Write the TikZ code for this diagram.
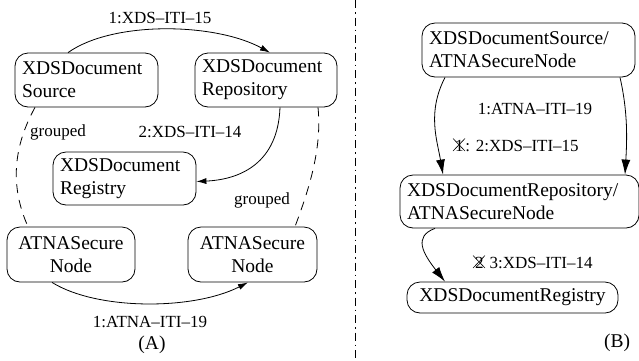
\documentclass[tikz,border=0pt]{standalone}
\usepackage{fontspec}
\setmainfont{Liberation Serif}
\usetikzlibrary{arrows.meta}
\newcommand\bigf{\fontsize{19.5}{23}\selectfont}
\newcommand\smallf{\fontsize{17}{19}\selectfont}
\tikzset{
  box/.style={draw, rounded corners=13pt, inner xsep=7pt, inner ysep=0pt, font=\bigf, align=left},
  lbl/.style={inner sep=0pt, font=\smallf},
  arrA/.style={-{Latex[length=10pt,width=6pt]}},
  arrB/.style={-{Latex[length=15pt,width=9pt]}},
  grp/.style={dash pattern=on 9pt off 7pt},
  xmark/.style={line width=0.6pt},
}
\begin{document}
\begin{tikzpicture}[x=1pt,y=-1pt,line width=0.8pt]
\useasboundingbox (0,0) rectangle (639,360);
% Panel A
\node[box, minimum width=143pt, minimum height=54pt, text width=129pt] (src) at (86.5,80) {XDSDocument\\Source};
\node[box, minimum width=142pt, minimum height=54pt, text width=128pt] (repo) at (266,80) {XDSDocument\\Repository};
\node[box, minimum width=143pt, minimum height=53pt, text width=129pt] (reg) at (124.5,178.5) {XDSDocument\\Registry};
\node[box, minimum width=128pt, minimum height=55pt, text width=114pt, align=center] (atl) at (71,254.5) {ATNASecure\\Node};
\node[box, minimum width=129pt, minimum height=55pt, text width=115pt, align=center] (atr) at (252.5,254.5) {ATNASecure\\Node};

\draw[arrA] ([xshift=-18.5pt]src.north) .. controls +(45,-32) and +(-55,-30) .. ([xshift=4pt]repo.north);
\node[lbl] (l1) at (160,18) {1:XDS--ITI--15};
\draw[arrA] ([xshift=14pt]repo.south) .. controls +(-2,55) and +(45,-2) .. ([yshift=-3pt]reg.east);
\node[lbl] (l2) at (190,132) {2:XDS--ITI--14};
\draw[arrA] ([xshift=-19pt]atl.south) .. controls +(45,28) and +(-55,28) .. ([xshift=-4.5pt]atr.south);
\node[lbl] (l3) at (150,322) {1:ATNA--ITI--19};
\draw[grp] ([xshift=-51.5pt]src.south) .. controls +(-22,40) and +(-18,-40) .. ([xshift=-43pt]atl.north);
\node[lbl] (g1) at (58,132) {grouped};
\draw[grp] ([xshift=52pt]repo.south) .. controls +(4,40) and +(15,-40) .. ([xshift=42.5pt]atr.north);
\node[lbl] (g2) at (262,200) {grouped};
\node[inner sep=0pt, font=\bigf] (capA) at (152,345) {(A)};

% divider
\draw[line width=0.7pt, dash pattern=on 8pt off 4pt on 1.5pt off 4pt] (355,0) -- (355,360);

% Panel B
\node[box, minimum width=213pt, minimum height=54pt, text width=199pt] (sb) at (528.5,50) {XDSDocumentSource/\\ATNASecureNode};
\node[box, minimum width=239pt, minimum height=53pt, text width=225pt] (rb) at (519.5,201.5) {XDSDocumentRepository/\\ATNASecureNode};
\node[box, minimum width=211pt, minimum height=31pt, align=center] (gb) at (512.5,297.5) {XDSDocumentRegistry};

\draw[arrB] ([xshift=-83.5pt]sb.south) .. controls +(-18,35) and +(-6,-35) .. ([xshift=-76.5pt]rb.north);
\draw[arrB] ([xshift=91.5pt]sb.south) .. controls +(8,35) and +(2,-35) .. ([xshift=105.5pt]rb.north);
\node[lbl] (b1) at (535,109) {1:ATNA--ITI--19};
\node[lbl, anchor=base west] (b2) at (453,151) {\makebox[12pt]{1}: 2:XDS--ITI--15};
\draw[xmark] ([yshift=0pt]b2.base west) -- ([xshift=12pt,yshift=12.5pt]b2.base west);
\draw[xmark] ([yshift=12.5pt]b2.base west) -- ([xshift=12pt]b2.base west);
\draw[arrB] ([xshift=-84.5pt]rb.south) .. controls +(-22,8) and +(-22,-28) .. ([xshift=-67.5pt]gb.north);
\node[lbl, anchor=base west] (b3) at (473,268) {\makebox[12pt]{2} 3:XDS--ITI--14};
\draw[xmark] ([yshift=0pt]b3.base west) -- ([xshift=12pt,yshift=12.5pt]b3.base west);
\draw[xmark] ([yshift=12.5pt]b3.base west) -- ([xshift=12pt]b3.base west);
\node[inner sep=0pt, font=\bigf] (capB) at (617,343) {(B)};
\end{tikzpicture}
\end{document}
